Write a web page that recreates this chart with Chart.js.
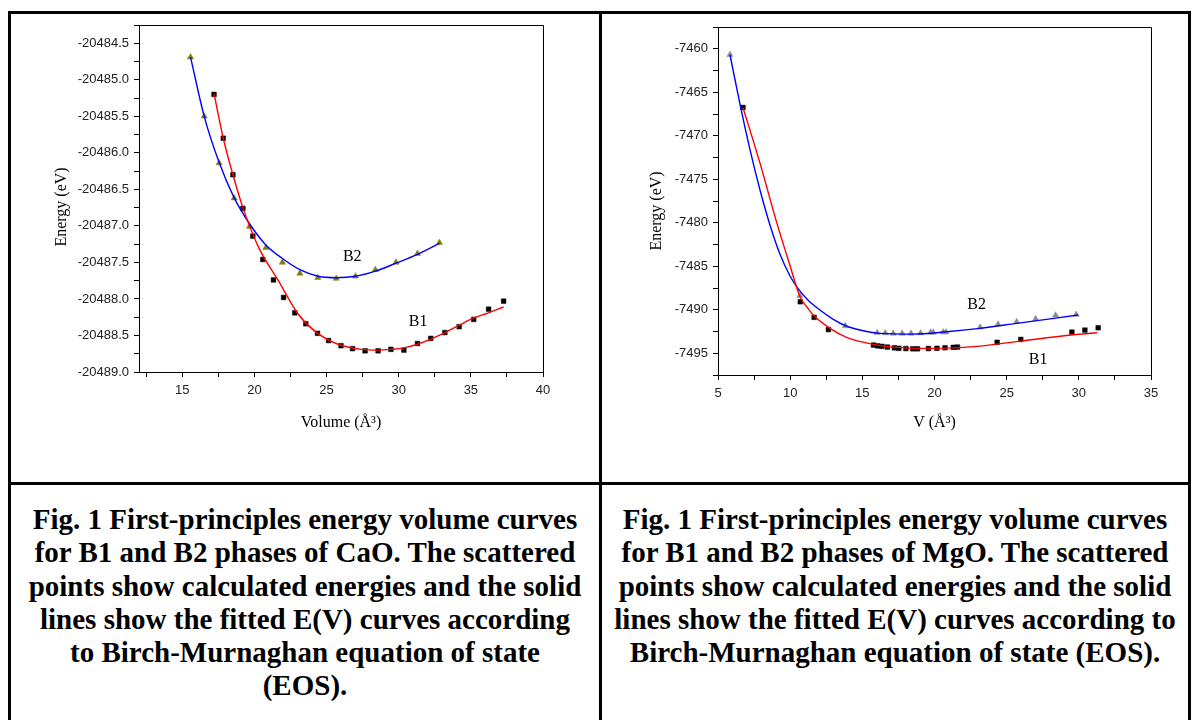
<!DOCTYPE html>
<html>
<head>
<meta charset="utf-8">
<script src="https://cdn.jsdelivr.net/npm/chart.js@4.4.1/dist/chart.umd.min.js"></script>
<style>
  body { margin: 0; background: #fff; width: 1199px; height: 720px; overflow: hidden; position: relative; }
  .line { position: absolute; background: #000; }
  canvas { position: absolute; }
  .caption {
    position: absolute; top: 503px; text-align: center; white-space: nowrap;
    font-family: "Liberation Serif", "Times New Roman", serif; font-weight: bold;
    font-size: 29px; line-height: 33.3px; color: #000;
  }
</style>
</head>
<body>
<div class="line" style="left:8px;top:11px;width:1183px;height:3px"></div>
<div class="line" style="left:8px;top:11px;width:3px;height:720px"></div>
<div class="line" style="left:599px;top:11px;width:3px;height:720px"></div>
<div class="line" style="left:1188px;top:11px;width:3px;height:720px"></div>
<div class="line" style="left:8px;top:482px;width:1183px;height:3px"></div>

<canvas id="cao" width="560" height="440" style="left:20px;top:10px"></canvas>
<canvas id="mgo" width="570" height="440" style="left:610px;top:10px"></canvas>

<div class="caption" style="left:11px;width:588px">Fig. 1 First-principles energy volume curves<br>for B1 and B2 phases of CaO. The scattered<br>points show calculated energies and the solid<br>lines show the fitted E(V) curves according<br>to Birch-Murnaghan equation of state<br>(EOS).</div>
<div class="caption" style="left:602px;width:586px">Fig. 1 First-principles energy volume curves<br>for B1 and B2 phases of MgO. The scattered<br>points show calculated energies and the solid<br>lines show the fitted E(V) curves according to<br>Birch-Murnaghan equation of state (EOS).</div>

<script>
// ---- CaO data (volume in A^3, energy in eV) ----
const caoB1V = [17.20, 17.84, 18.51, 19.20, 19.89, 20.58, 21.32, 22.02, 22.80, 23.56, 24.37, 25.14, 26.00, 26.80, 27.67, 28.57, 29.46, 30.36, 31.30, 32.22, 33.20, 34.19, 35.20, 36.23, 37.27];
const caoB1E = [-20485.20, -20485.80, -20486.30, -20486.76, -20487.14, -20487.46, -20487.74, -20487.98, -20488.19, -20488.34, -20488.47, -20488.57, -20488.64, -20488.68, -20488.71, -20488.71, -20488.69, -20488.70, -20488.61, -20488.54, -20488.46, -20488.38, -20488.28, -20488.14, -20488.03];
const caoB2V = [15.57, 16.52, 17.55, 18.60, 19.66, 20.79, 21.94, 23.15, 24.39, 25.67, 27.00, 28.38, 29.81, 31.30, 32.82];
const caoB2E = [-20484.69, -20485.50, -20486.14, -20486.62, -20487.01, -20487.30, -20487.50, -20487.65, -20487.71, -20487.72, -20487.69, -20487.60, -20487.50, -20487.38, -20487.23];
// fitted curves
const caoFitB1V = [17.20, 17.84, 18.51, 19.20, 20.28, 21.66, 23.04, 24.18, 25.79, 27.40, 28.57, 29.46, 30.36, 31.30, 32.22, 33.20, 34.19, 35.20, 36.23, 37.27];
const caoFitB1E = [-20485.19, -20485.80, -20486.30, -20486.75, -20487.29, -20487.75, -20488.21, -20488.44, -20488.62, -20488.69, -20488.70, -20488.69, -20488.67, -20488.62, -20488.55, -20488.46, -20488.36, -20488.26, -20488.19, -20488.11];
const caoFitB2V = [15.57, 16.52, 17.55, 18.58, 19.59, 20.74, 21.89, 23.15, 24.41, 25.67, 27.00, 28.38, 29.81, 31.30, 32.82];
const caoFitB2E = [-20484.69, -20485.50, -20486.13, -20486.61, -20486.95, -20487.25, -20487.44, -20487.60, -20487.69, -20487.71, -20487.69, -20487.62, -20487.51, -20487.39, -20487.24];

const caoXMajor = [15, 20, 25, 30, 35, 40];
const caoXMinor = [12.5, 17.5, 22.5, 27.5, 32.5, 37.5];
const caoYMajor = [-20489.0, -20488.5, -20488.0, -20487.5, -20487.0, -20486.5, -20486.0, -20485.5, -20485.0, -20484.5];
const caoYMinor = [-20488.75, -20488.25, -20487.75, -20487.25, -20486.75, -20486.25, -20485.75, -20485.25, -20484.75, -20484.25];

// ---- MgO data ----
const mgoB1V = [6.73, 10.70, 11.66, 12.65, 15.77, 16.06, 16.36, 16.74, 17.22, 17.53, 18.02, 18.50, 18.82, 19.58, 20.17, 20.73, 21.30, 21.59, 24.34, 25.98, 29.52, 30.42, 31.34];
const mgoB1E = [-7466.75, -7489.08, -7490.87, -7492.28, -7494.06, -7494.15, -7494.21, -7494.29, -7494.38, -7494.43, -7494.46, -7494.49, -7494.49, -7494.46, -7494.43, -7494.37, -7494.32, -7494.29, -7493.74, -7493.41, -7492.57, -7492.34, -7492.07];
const mgoB2V = [5.83, 10.67, 13.82, 16.03, 16.59, 17.14, 17.76, 18.37, 19.04, 19.73, 19.91, 20.60, 20.79, 23.16, 24.41, 25.69, 27.01, 28.39, 29.82];
const mgoB2E = [-7460.69, -7488.39, -7491.85, -7492.65, -7492.68, -7492.72, -7492.72, -7492.72, -7492.68, -7492.60, -7492.60, -7492.57, -7492.57, -7492.01, -7491.67, -7491.39, -7491.05, -7490.63, -7490.55];
const mgoFitB1V = [6.73, 7.91, 9.07, 9.94, 10.68, 11.14, 11.60, 12.76, 13.91, 15.75, 17.38, 18.99, 20.84, 23.14, 25.98, 29.45, 31.27];
const mgoFitB1E = [-7466.75, -7473.15, -7479.99, -7484.66, -7488.50, -7489.65, -7490.61, -7492.14, -7493.18, -7493.98, -7494.33, -7494.44, -7494.41, -7494.18, -7493.60, -7492.91, -7492.65];
const mgoFitB2V = [5.83, 6.57, 7.22, 7.91, 8.60, 9.29, 9.99, 10.47, 11.23, 12.06, 12.96, 13.84, 15.06, 16.22, 18.52, 20.84, 23.14, 25.69, 29.95];
const mgoFitB2E = [-7460.69, -7466.75, -7471.62, -7476.23, -7480.25, -7483.59, -7486.12, -7487.39, -7488.88, -7490.03, -7491.07, -7491.84, -7492.42, -7492.72, -7492.80, -7492.53, -7492.14, -7491.57, -7490.61];

const mgoXMajor = [5, 10, 15, 20, 25, 30, 35];
const mgoXMinor = [7.5, 12.5, 17.5, 22.5, 27.5, 32.5];
const mgoYMajor = [-7495, -7490, -7485, -7480, -7475, -7470, -7465, -7460];
const mgoYMinor = [-7497.5, -7492.5, -7487.5, -7482.5, -7477.5, -7472.5, -7467.5, -7462.5, -7457.5];

function pts(xs, ys) {
    return xs.map((x, i) => ({x: x, y: ys[i]}));
}

function isMajor(list, v) {
    return list.some(m => Math.abs(m - v) < 1e-6);
}

// frame on top/right, phase labels and the rotated y title
const extras = {
    id: 'extras',
    afterDraw(chart, args, opts) {
        const ctx = chart.ctx;
        const a = chart.chartArea;
        ctx.save();
        ctx.strokeStyle = '#000';
        ctx.lineWidth = 1;
        ctx.beginPath();
        ctx.moveTo(a.left, a.top + 0.5);
        ctx.lineTo(a.right + 0.5, a.top + 0.5);
        ctx.lineTo(a.right + 0.5, a.bottom);
        ctx.stroke();

        ctx.fillStyle = '#000';
        ctx.font = '16px "Liberation Serif", serif';
        ctx.textAlign = 'center';
        ctx.textBaseline = 'middle';
        opts.labels.forEach(l => {
            ctx.fillText(l.text, chart.scales.x.getPixelForValue(l.x), chart.scales.y.getPixelForValue(l.y));
        });

        ctx.translate(opts.titleX, opts.titleY);
        ctx.rotate(-Math.PI / 2);
        ctx.fillText(opts.title, 0, 0);
        ctx.restore();
    }
};

function makeChart(id, cfg) {
    const allX = cfg.xMajor.concat(cfg.xMinor).sort((a, b) => a - b);
    const allY = cfg.yMajor.concat(cfg.yMinor).sort((a, b) => a - b);
    const tickFont = {family: '"Liberation Sans", Arial, sans-serif', size: 13};

    return new Chart(document.getElementById(id), {
        type: 'scatter',
        data: {
            datasets: [
                {data: cfg.fit1, showLine: true, borderColor: '#ff0000', borderWidth: 1.4, pointRadius: 0, cubicInterpolationMode: 'monotone'},
                {data: cfg.fit2, showLine: true, borderColor: '#0000ff', borderWidth: 1.4, pointRadius: 0, cubicInterpolationMode: 'monotone'},
                {data: cfg.b2, pointStyle: 'triangle', pointRadius: 3.6, backgroundColor: cfg.triColor, borderColor: cfg.triColor, borderWidth: 0.5},
                {data: cfg.b1, pointStyle: 'rect', pointRadius: 3.3, backgroundColor: '#000', borderColor: '#000', borderWidth: 0.5}
            ]
        },
        options: {
            responsive: false,
            animation: false,
            layout: {padding: {left: 0, top: cfg.padTop, right: cfg.padRight, bottom: 0}},
            plugins: {
                legend: {display: false},
                tooltip: {enabled: false},
                extras: {labels: cfg.labels, title: 'Energy (eV)', titleX: cfg.yTitleX, titleY: cfg.yTitleY}
            },
            scales: {
                x: {
                    type: 'linear',
                    min: cfg.xMin, max: cfg.xMax,
                    afterBuildTicks: s => { s.ticks = allX.map(v => ({value: v})); },
                    afterFit: s => { s.height = cfg.xHeight; },
                    ticks: {
                        autoSkip: false, maxRotation: 0, padding: 6, color: '#222', font: tickFont,
                        callback: v => isMajor(cfg.xMajor, v) ? String(v) : ''
                    },
                    grid: {drawOnChartArea: false, drawTicks: true, tickLength: 5, tickColor: '#000'},
                    border: {color: '#000', width: 1},
                    title: {
                        display: true, text: cfg.xTitle, color: '#000',
                        font: {family: '"Liberation Serif", serif', size: 16},
                        padding: {top: 0, bottom: 17.4}
                    }
                },
                y: {
                    type: 'linear',
                    min: cfg.yMin, max: cfg.yMax,
                    afterBuildTicks: s => { s.ticks = allY.map(v => ({value: v})); },
                    afterFit: s => { s.width = cfg.yWidth; },
                    ticks: {
                        autoSkip: false, padding: 5, color: '#222', font: tickFont,
                        callback: v => isMajor(cfg.yMajor, v) ? v.toFixed(cfg.yDecimals) : ''
                    },
                    grid: {drawOnChartArea: false, drawTicks: true, tickLength: 5, tickColor: '#000'},
                    border: {color: '#000', width: 1}
                }
            }
        },
        plugins: [extras]
    });
}

makeChart('cao', {
    b1: pts(caoB1V, caoB1E), b2: pts(caoB2V, caoB2E),
    fit1: pts(caoFitB1V, caoFitB1E), fit2: pts(caoFitB2V, caoFitB2E),
    triColor: '#808000',
    xMin: 12, xMax: 40, yMin: -20489.0, yMax: -20484.25,
    xMajor: caoXMajor, xMinor: caoXMinor, yMajor: caoYMajor, yMinor: caoYMinor, yDecimals: 1,
    xTitle: 'Volume (Å³)',
    labels: [{text: 'B2', x: 26.78, y: -20487.42}, {text: 'B1', x: 31.34, y: -20488.31}],
    padTop: 15, padRight: 37, yWidth: 119, xHeight: 78,
    yTitleX: 42, yTitleY: 197
});

makeChart('mgo', {
    b1: pts(mgoB1V, mgoB1E), b2: pts(mgoB2V, mgoB2E),
    fit1: pts(mgoFitB1V, mgoFitB1E), fit2: pts(mgoFitB2V, mgoFitB2E),
    triColor: '#8c8c8c',
    xMin: 5, xMax: 35, yMin: -7497.5, yMax: -7457.5,
    xMajor: mgoXMajor, xMinor: mgoXMinor, yMajor: mgoYMajor, yMinor: mgoYMinor, yDecimals: 0,
    xTitle: 'V (Å³)',
    labels: [{text: 'B2', x: 22.92, y: -7489.46}, {text: 'B1', x: 27.18, y: -7495.79}],
    padTop: 17, padRight: 29, yWidth: 108, xHeight: 75,
    yTitleX: 47, yTitleY: 201
});
</script>
</body>
</html>
